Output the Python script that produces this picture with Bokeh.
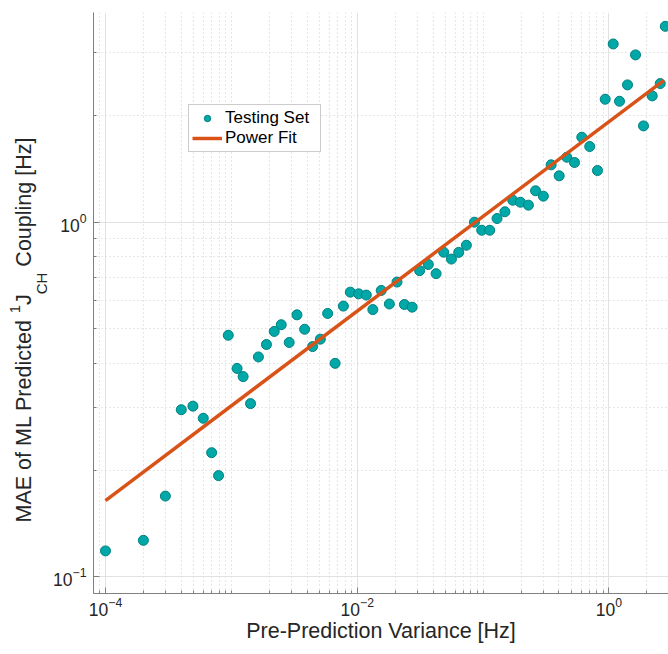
import math
from bokeh.plotting import figure
from bokeh.layouts import row
from bokeh.models import FixedTicker, Legend, LegendItem, Range1d, ColumnDataSource
from bokeh.core.properties import value
from bokeh.embed import file_html
from bokeh.resources import INLINE

# ---- data ----
variance = [1.0e-4, 2.0e-4, 2.99e-4, 4.0e-4, 4.95e-4, 5.98e-4, 6.97e-4, 7.91e-4, 9.45e-4, 1.11e-3,
            1.24e-3, 1.42e-3, 1.64e-3, 1.90e-3, 2.19e-3, 2.49e-3, 2.88e-3, 3.32e-3, 3.82e-3, 4.42e-3,
            5.09e-3, 5.82e-3, 6.67e-3, 7.76e-3, 8.81e-3, 1.026e-2, 1.18e-2, 1.33e-2, 1.55e-2, 1.80e-2,
            2.07e-2, 2.37e-2, 2.73e-2, 3.13e-2, 3.67e-2, 4.23e-2, 4.86e-2, 5.60e-2, 6.40e-2, 7.36e-2,
            8.53e-2, 9.75e-2, 0.1128, 0.129, 0.149, 0.172, 0.198, 0.229, 0.261, 0.301,
            0.347, 0.402, 0.462, 0.532, 0.608, 0.703, 0.810, 0.933, 1.080, 1.212,
            1.403, 1.625, 1.880, 2.205, 2.553, 2.80]
mae = [0.1184, 0.1268, 0.169, 0.296, 0.303, 0.280, 0.224, 0.193, 0.480, 0.387,
       0.367, 0.308, 0.417, 0.452, 0.492, 0.514, 0.458, 0.548, 0.499, 0.446,
       0.468, 0.553, 0.400, 0.580, 0.635, 0.628, 0.623, 0.567, 0.642, 0.588,
       0.678, 0.586, 0.576, 0.730, 0.760, 0.716, 0.823, 0.787, 0.822, 0.861,
       1.0, 0.949, 0.949, 1.024, 1.070, 1.153, 1.138, 1.117, 1.226, 1.184,
       1.451, 1.351, 1.524, 1.473, 1.736, 1.634, 1.398, 2.221, 3.18, 2.192,
       2.438, 2.962, 1.868, 2.270, 2.459, 3.565]

fit_coef = 1.92
fit_exp = 0.267
fit_range = [1.0e-4, 2.73]

x_major = [1e-4, 1e-2, 1.0]
y_major = [0.1, 1.0]
x_limits = [8.03e-5, 2.97]
y_limits = [0.0898, 3.90]

x_label = "Pre-Prediction Variance [Hz]"
legend_labels = ["Testing Set", "Power Fit"]
# y label pieces: (text, role) -> role: base / sup / sub
y_label_parts = [("MAE of ML Predicted", "base"), ("1", "sup"), ("J", "base"),
                 ("CH", "sub"), ("Coupling [Hz]", "base")]

FONT = "Liberation Sans"
TXT = "#262626"

x_minor = [m * 10.0 ** d for d in range(-5, 1) for m in range(1, 10)
           if m * 10.0 ** d not in x_major and x_limits[0] <= m * 10.0 ** d <= x_limits[1]]
y_minor = [m * 10.0 ** d for d in range(-2, 1) for m in range(1, 10)
           if m * 10.0 ** d not in y_major and y_limits[0] <= m * 10.0 ** d <= y_limits[1]]

LABEL_W = 50
TOP = 12
FRAME_H = 581

p = figure(x_axis_type="log", y_axis_type="log",
           x_range=Range1d(*x_limits), y_range=Range1d(*y_limits),
           frame_width=575, frame_height=FRAME_H,
           min_border_left=93 - LABEL_W, min_border_right=0, min_border_top=TOP, min_border_bottom=45,
           output_backend="svg", toolbar_location=None)
p.outline_line_color = None
p.background_fill_color = "white"
p.border_fill_color = "white"

p.xaxis.ticker = FixedTicker(ticks=x_major, minor_ticks=x_minor)
p.yaxis.ticker = FixedTicker(ticks=y_major, minor_ticks=y_minor)
p.xgrid.ticker = FixedTicker(ticks=x_major, minor_ticks=x_minor)
p.ygrid.ticker = FixedTicker(ticks=y_major, minor_ticks=y_minor)

for g in (p.xgrid, p.ygrid):
    g.grid_line_color = "#e2e2e2"
    g.grid_line_width = 1
    g.minor_grid_line_color = "#cfcfcf"
    g.minor_grid_line_dash = "1 3"
    g.minor_grid_line_width = 1

for ax in (p.xaxis, p.yaxis):
    ax.axis_line_color = "#808080"
    ax.major_tick_line_color = "#808080"
    ax.minor_tick_line_color = "#808080"
    ax.major_tick_in = 6
    ax.major_tick_out = 0
    ax.minor_tick_in = 3
    ax.minor_tick_out = 0
    ax.major_label_text_font = FONT
    ax.major_label_text_font_size = "17.5px"
    ax.major_label_text_color = TXT

p.xaxis.major_label_standoff = 3
p.yaxis.major_label_standoff = 7
p.xaxis.axis_label = x_label
p.xaxis.axis_label_text_font = FONT
p.xaxis.axis_label_text_font_size = "21.5px"
p.xaxis.axis_label_text_font_style = "normal"
p.xaxis.axis_label_text_color = TXT
p.xaxis.axis_label_standoff = 0

src = ColumnDataSource(dict(x=variance, y=mae))
sc = p.scatter("x", "y", source=src, size=10, fill_color="#00A8A8", line_color="#007F7F", line_width=1)

fit_x = fit_range
fit_y = [fit_coef * v ** fit_exp for v in fit_x]
ln = p.line(fit_x, fit_y, line_color="#D95319", line_width=3.5)

legend = Legend(items=[LegendItem(label=legend_labels[0], renderers=[sc]),
                       LegendItem(label=legend_labels[1], renderers=[ln])],
                location=(95, 441))
legend.padding = 3
legend.spacing = 0
legend.margin = 0
legend.glyph_width = 30
legend.glyph_height = 16
legend.label_height = 20
legend.label_standoff = 3
legend.label_width = 92
legend.label_text_font = FONT
legend.label_text_font_size = "17px"
legend.label_text_color = "black"
legend.border_line_color = "#9a9a9a"
legend.border_line_width = 1
legend.background_fill_color = "white"
legend.background_fill_alpha = 1
p.add_layout(legend)

# ---- y-axis label drawn as real text in a narrow side figure ----
# its frame is aligned with the main frame, so its y range is in page pixels (frame top..bottom)
q = figure(frame_width=LABEL_W, frame_height=FRAME_H,
           x_range=Range1d(0, LABEL_W), y_range=Range1d(TOP + FRAME_H, TOP),
           x_axis_location=None, y_axis_location=None,
           min_border_left=0, min_border_right=0, min_border_top=TOP, min_border_bottom=45,
           output_backend="svg", toolbar_location=None)
q.grid.visible = False
q.outline_line_color = None
q.background_fill_color = "white"
q.border_fill_color = "white"

F = 21.5
FS = 15.0
role_x = {"base": 23.5, "sup": 14, "sub": 41}
role_fs = {"base": F, "sup": FS, "sub": FS}
# Liberation Sans advance widths (per em)
adv = {"MAE of ML Predicted": 9.449, "1": 0.556, "J": 0.500, "CH": 1.444, "Coupling [Hz]": 6.002}
gap_before = {"MAE of ML Predicted": 0.0, "1": 0.278 * F, "J": 0.0, "CH": 0.0, "Coupling [Hz]": 0.278 * F}

ypos = 522.0
for txt, role in y_label_parts:
    ypos -= gap_before[txt]
    q.text(x=[role_x[role]], y=[ypos], text=[txt], angle=math.pi / 2,
           text_font=value(FONT), text_font_size=value(f"{role_fs[role]}px"),
           text_color=TXT, text_align="left", text_baseline="alphabetic")
    ypos -= adv[txt] * role_fs[role]

layout = row(q, p, spacing=0)
open("out.html", "w").write(file_html(layout, INLINE))
